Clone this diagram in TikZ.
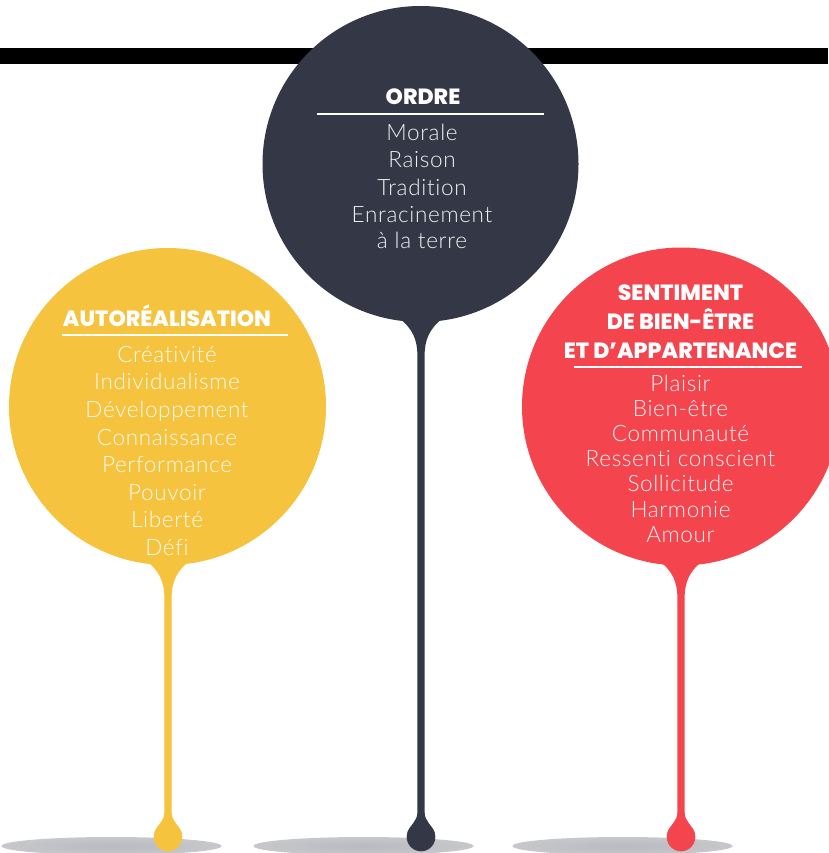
\documentclass[tikz,border=0pt]{standalone}
\usepackage{fontspec}
\setmainfont{Lato}[UprightFont=* Light, BoldFont=* Black, LetterSpace=3, Ligatures=NoCommon]
\newfontfamily\titlefont{Poppins ExtraBold}
\definecolor{ink}{HTML}{343746}
\definecolor{sun}{HTML}{F5C33E}
\definecolor{coral}{HTML}{F4444E}
\definecolor{shadowc}{HTML}{B8BABF}
\pgfdeclareradialshading{floorshadow}{\pgfpoint{0bp}{0bp}}{color(0bp)=(shadowc); color(25bp)=(shadowc!80!white); color(50bp)=(white)}
\tikzset{
  itemtxt/.style={align=center, text=white, text opacity=0.93, inner sep=0pt,
    font=\fontsize{22.5}{27.6}\selectfont},
  titletxt/.style={align=center, text=white, inner sep=0pt,
    font=\titlefont\fontsize{22}{29}\selectfont},
  ruleline/.style={draw=white, line width=2.6pt},
  bubble/.style={circle, inner sep=0pt, draw=none},
  groundshadow/.style={shading=floorshadow}
}
\newcommand\stempath[2]{% #1 = x of stem, #2 = y of circle centre
  (#1-22,#2+154) .. controls (#1-8,#2+165) and (#1-3.6,#2+176) .. (#1-3.6,#2+192)
  -- (#1-3.6,812) .. controls (#1-3.6,822) and (#1-11.2,824.5) .. (#1-13.7,833)
  -- (#1+13.7,833) .. controls (#1+11.2,824.5) and (#1+3.6,822) .. (#1+3.6,812)
  -- (#1+3.6,#2+192) .. controls (#1+3.6,#2+176) and (#1+8,#2+165) .. (#1+22,#2+154) -- cycle}
\begin{document}
\begin{tikzpicture}[x=1pt, y=-1pt]
\useasboundingbox (0,0) rectangle (828,853);
\fill[white] (0,0) rectangle (828,853);
% top bar
\fill[black] (0,48) rectangle (828,64);
% ground shadows
\shade[groundshadow] (111.5,846) ellipse [x radius=110, y radius=9];
\shade[groundshadow] (363.5,846) ellipse [x radius=110, y radius=9];
\shade[groundshadow] (622.5,846) ellipse [x radius=110, y radius=9];
% stems and drops
\fill[sun] \stempath{168}{406.5};
\fill[sun] (168,837) circle [radius=14.3];
\fill[ink] \stempath{421}{164};
\fill[ink] (421,837) circle [radius=14.3];
\fill[coral] \stempath{681}{406.5};
\fill[coral] (681,837) circle [radius=14.3];
% bubbles
\node[bubble, fill=ink, minimum size=316pt] (ordre) at (420.5,164) {};
\node[bubble, fill=sun, minimum size=317pt] (auto) at (167.5,406.5) {};
\node[bubble, fill=coral, minimum size=318pt] (senti) at (681,406.5) {};
% ORDRE
\node[titletxt, anchor=base] (ordreT) at (423,105) {ORDRE};
\draw[ruleline] (317,114) -- (544,114);
\node[itemtxt] (ordreL) at (422,186) {Morale\\Raison\\Tradition\\Enracinement\\[-2.5pt]à la terre};
% AUTOREALISATION
\node[titletxt, anchor=base] (autoT) at (167,326) {AUTORÉALISATION};
\draw[ruleline] (62,335) -- (288,335);
\node[itemtxt] (autoL) at (167,451) {Créativité\\Individualisme\\Développement\\Connaissance\\Performance\\Pouvoir\\Liberté\\Défi};
% SENTIMENT
\node[titletxt] (sentiT) at (680.5,322) {SENTIMENT\\DE BIEN-ÊTRE\\ET D’APPARTENANCE};
\draw[ruleline] (574,367) -- (802,367);
\node[itemtxt, font=\fontsize{22.5}{25.2}\selectfont] (sentiL) at (680.5,458.5) {Plaisir\\Bien-être\\Communauté\\Ressenti conscient\\Sollicitude\\Harmonie\\Amour};
\end{tikzpicture}
\end{document}
